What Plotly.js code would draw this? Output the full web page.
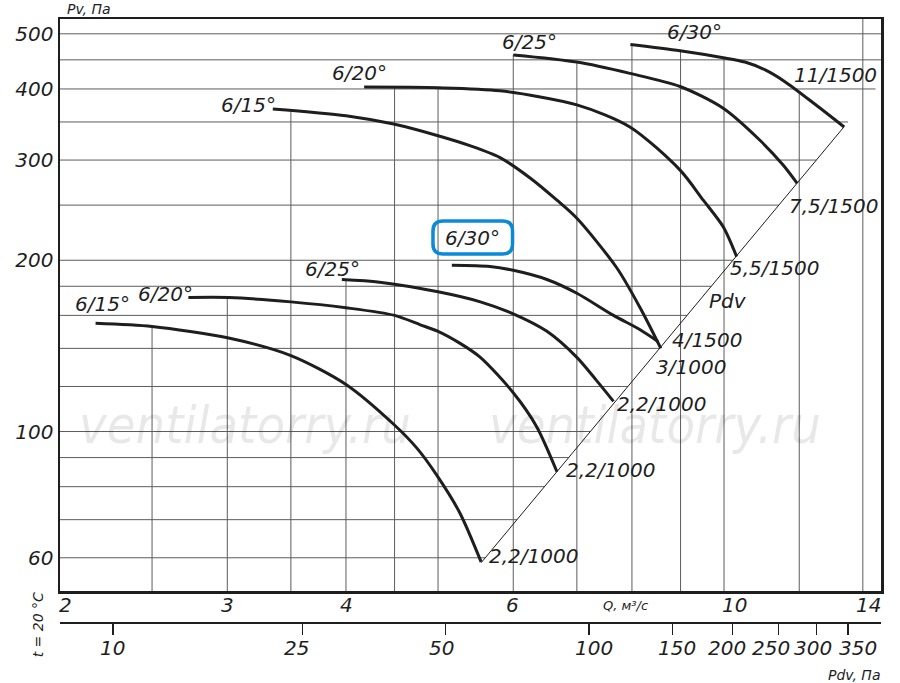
<!DOCTYPE html>
<html>
<head>
<meta charset="utf-8">
<script src="https://cdn.plot.ly/plotly-3.0.1.min.js"></script>
<style>
  html, body { margin: 0; padding: 0; background: #fff; }
  #chart_area { width: 900px; height: 683px; }
</style>
</head>
<body>
<div id="chart_area"></div>
<script>
// fan curves, Q in m3/s, Pv in Pa
var q1500_15 = [3.35, 4.00, 4.49, 5.00, 5.40, 5.81, 6.25, 6.67, 7.00, 7.71, 8.16, 8.58];
var pv1500_15 = [369, 359, 347, 331, 318, 303, 279, 255, 237, 194, 165, 140];
var q1500_20 = [4.18, 5.00, 5.81, 7.00, 7.96, 8.99, 9.51, 9.98, 10.31];
var pv1500_20 = [403, 402, 397, 375, 343, 288, 255, 229, 203];
var q1500_25 = [6.00, 7.00, 7.96, 8.99, 9.98, 10.91, 11.54, 11.94];
var pv1500_25 = [459, 446, 426, 404, 370, 325, 294, 273];
var q1500_30 = [7.97, 8.99, 9.98, 10.52, 11.05, 11.59, 12.47, 13.38];
var pv1500_30 = [479, 467, 454, 446, 432, 412, 376, 343];

var q1000_15 = [2.18, 2.50, 3.01, 3.50, 4.00, 4.49, 4.75, 4.98, 5.27, 5.55];
var pv1000_15 = [155, 153, 146, 136, 121, 103, 93.5, 84, 72, 59];
var q1000_20 = [2.73, 3.01, 3.50, 4.00, 4.50, 4.79, 5.00, 5.27, 5.54, 6.00, 6.35, 6.67];
var pv1000_20 = [172, 172, 169, 165, 160, 154, 150, 143, 135, 117, 102, 85];
var q1000_25 = [3.96, 4.34, 5.00, 5.54, 6.00, 6.51, 7.00, 7.34, 7.65];
var pv1000_25 = [185, 183, 176, 169, 161, 150, 135, 123, 113];
var q1000_30 = [5.17, 5.67, 6.00, 6.51, 7.00, 7.65, 8.16, 8.52];
var pv1000_30 = [196, 195, 192, 185, 175, 160, 151, 144];

// Pdv line (end points of the curves lie on it)
var pdvLineQ = [5.55, 13.38];
var pdvLinePv = [58.8, 343.4];

// axes
var qTicks = [2, 3, 4, 6, 10, 14];
var pvTicks = [60, 100, 200, 300, 400, 500];
var pdvTicks = [10, 25, 50, 100, 150, 200, 250, 300, 350];

// grid
var gridQ = [2.5, 3, 3.5, 4, 4.5, 5, 6, 7, 8, 9, 10, 12, 14];
var gridQTop = [153, 172, 366, 185, 402, 402, 459, 446, 479, 467, 454, 397, null];
var gridPv = [60, 70, 80, 90, 100, 120, 140, 160, 180, 200, 250, 300, 350, 400, 450, 500];

var xRange = [Math.log10(2), Math.log10(14.63)];
var yRange = [Math.log10(52.45), Math.log10(530.9)];
var pdvRange = [0.8887, 2.6134];

function lg(v) { return Math.log10(v); }

var ink = '#1e1e1e';
var gridColor = '#5c5c5c';
var fontFam = 'DejaVu Sans, sans-serif';

// vertical grid lines, cut where the top curve is
var vx = [], vy = [];
var pvBottom = Math.pow(10, yRange[0]), pvTop = Math.pow(10, yRange[1]);
gridQ.forEach(function (q, i) {
    vx.push(q, q, null);
    vy.push(pvBottom, gridQTop[i] === null ? pvTop : gridQTop[i], null);
});

// horizontal grid lines stop at the Pdv line
var slope = (lg(pdvLinePv[1]) - lg(pdvLinePv[0])) / (lg(pdvLineQ[1]) - lg(pdvLineQ[0]));
var hx = [], hy = [];
gridPv.forEach(function (p) {
    var qEnd = Math.pow(10, lg(pdvLineQ[0]) + (lg(p) - lg(pdvLinePv[0])) / slope);
    qEnd = Math.min(qEnd, Math.pow(10, xRange[1]));
    hx.push(2, qEnd, null);
    hy.push(p, p, null);
});

var data = [
    { x: vx, y: vy, mode: 'lines', line: { color: gridColor, width: 1 }, hoverinfo: 'skip' },
    { x: hx, y: hy, mode: 'lines', line: { color: gridColor, width: 1 }, hoverinfo: 'skip' },
    { x: pdvLineQ, y: pdvLinePv, mode: 'lines', line: { color: ink, width: 1 }, hoverinfo: 'skip' },
    // keeps the Pdv axis alive
    { x: pdvTicks, y: [], xaxis: 'x2', yaxis: 'y', mode: 'markers', hoverinfo: 'skip' }
];

var curves = [
    { q: q1500_15, p: pv1500_15, start: '6/15°', end: '4/1500', s: [-24, 3.5], e: [46, 8] },
    { q: q1500_20, p: pv1500_20, start: '6/20°', end: '5,5/1500', s: [-5, 14.5], e: [38, -11] },
    { q: q1500_25, p: pv1500_25, start: '6/25°', end: '7,5/1500', s: [16, 12.5], e: [36, -23] },
    { q: q1500_30, p: pv1500_30, start: '6/30°', end: '11/1500', s: [64.5, 12.5], e: [-9, 52] },
    { q: q1000_15, p: pv1000_15, start: '6/15°', end: '2,2/1000', s: [6.5, 19], e: [52, 6] },
    { q: q1000_20, p: pv1000_20, start: '6/20°', end: '2,2/1000', s: [-23, 4], e: [54, 2] },
    { q: q1000_25, p: pv1000_25, start: '6/25°', end: '2,2/1000', s: [-9, 10.5], e: [48, -3] },
    { q: q1000_30, p: pv1000_30, start: '6/30°', end: '3/1000', s: [21, 27], e: [33, -26] }
];

var labelFont = { family: fontFam, size: 20, color: ink, style: 'italic' };
var annotations = [];

curves.forEach(function (c) {
    data.push({
        x: c.q, y: c.p, mode: 'lines',
        line: { color: ink, width: 3, shape: 'spline', smoothing: 0.8 },
        hoverinfo: 'none'
    });
    var n = c.q.length - 1;
    annotations.push({
        x: lg(c.q[0]), y: lg(c.p[0]), text: c.start, showarrow: false,
        xanchor: 'center', yanchor: 'middle', xshift: c.s[0], yshift: c.s[1], font: labelFont
    });
    annotations.push({
        x: lg(c.q[n]), y: lg(c.p[n]), text: c.end, showarrow: false, borderpad: 0,
        xanchor: 'center', yanchor: 'middle', xshift: c.e[0], yshift: c.e[1], font: labelFont
    });
});

annotations.push({
    x: lg(10.1), y: lg(169.6), text: 'Pdv', showarrow: false, font: labelFont
});

// Q labels, nudged like the original
var qShift = [5, 0, 1, -1, 10, 6];
qTicks.forEach(function (v, i) {
    annotations.push({
        xref: 'x', yref: 'paper', x: lg(v), y: 0.0306, text: String(v),
        showarrow: false, xanchor: 'center', yanchor: 'middle', xshift: qShift[i], font: labelFont
    });
});

// Pdv scale labels, nudged like the original so they don't collide
var pdvShift = [0, -6, -4, 5, 4, -5, -7, -3, 10];
pdvTicks.forEach(function (v, i) {
    annotations.push({
        xref: 'x2', yref: 'paper', x: lg(v), y: -0.0414, text: String(v),
        showarrow: false, xanchor: 'center', yanchor: 'middle', xshift: pdvShift[i], font: labelFont
    });
});

var smallFont = { family: fontFam, size: 14, color: ink, style: 'italic' };
annotations.push(
    { xref: 'paper', yref: 'paper', x: 0.006, y: 1.017, text: 'Pv, Па', showarrow: false,
      xanchor: 'left', yanchor: 'middle', font: smallFont },
    { xref: 'paper', yref: 'paper', x: 0.689, y: 0.0298, text: 'Q, м³/с', showarrow: false,
      xanchor: 'center', yanchor: 'middle', font: { family: fontFam, size: 13, color: ink, style: 'italic' } },
    { xref: 'paper', yref: 'paper', x: 1.001, y: -0.086, text: 'Pdv, Па', showarrow: false,
      xanchor: 'right', yanchor: 'middle', font: smallFont },
    { xref: 'paper', yref: 'paper', x: -0.0274, y: -0.003, text: 't = 20 °C', showarrow: false,
      textangle: -90, xanchor: 'center', yanchor: 'middle', font: smallFont }
);

// watermark
[0.2253, 0.7247].forEach(function (wx) {
    annotations.push({
        xref: 'paper', yref: 'paper', x: wx, y: 0.328, text: 'ventilatorry.ru',
        showarrow: false, xanchor: 'center', yanchor: 'middle',
        font: { family: 'Liberation Sans Narrow, DejaVu Sans Condensed, sans-serif', size: 52,
                color: 'rgba(0,0,0,0.09)', style: 'italic' }
    });
});

// rounded blue frame round the lower 6/30° label
var L = 60, T = 19, W = 821, H = 604;
function px(x) { return ((x - L) / W).toFixed(4); }
function py(y) { return ((T + H - y) / H).toFixed(4); }
function roundRect(x0, y0, x1, y1, r) {
    return 'M' + px(x0 + r) + ',' + py(y0) +
        ' L' + px(x1 - r) + ',' + py(y0) +
        ' Q' + px(x1) + ',' + py(y0) + ' ' + px(x1) + ',' + py(y0 + r) +
        ' L' + px(x1) + ',' + py(y1 - r) +
        ' Q' + px(x1) + ',' + py(y1) + ' ' + px(x1 - r) + ',' + py(y1) +
        ' L' + px(x0 + r) + ',' + py(y1) +
        ' Q' + px(x0) + ',' + py(y1) + ' ' + px(x0) + ',' + py(y1 - r) +
        ' L' + px(x0) + ',' + py(y0 + r) +
        ' Q' + px(x0) + ',' + py(y0) + ' ' + px(x0 + r) + ',' + py(y0) + ' Z';
}

var layout = {
    width: 900,
    height: 683,
    margin: { l: L, r: 900 - L - W, t: T, b: 683 - T - H, pad: 0 },
    paper_bgcolor: '#fff',
    plot_bgcolor: '#fff',
    showlegend: false,
    font: { family: fontFam, size: 20, color: ink, style: 'italic' },
    xaxis: {
        type: 'log', range: xRange, anchor: 'y',
        tickvals: qTicks, showticklabels: false, ticks: '',
        showgrid: false, zeroline: false,
        showline: true, mirror: true, linewidth: 2.5, linecolor: ink
    },
    yaxis: {
        type: 'log', range: yRange, domain: [(683 - 60 - 591) / H, 1],
        tickvals: pvTicks, ticktext: pvTicks.map(String), ticks: '',
        showgrid: false, zeroline: false,
        showline: true, mirror: true, linewidth: 2.5, linecolor: ink,
        tickfont: { family: fontFam, size: 20, color: ink, style: 'italic' }
    },
    xaxis2: {
        type: 'log', range: pdvRange, overlaying: 'x', anchor: 'free', position: 0, side: 'bottom',
        tickvals: pdvTicks, showticklabels: false,
        ticks: 'outside', ticklen: 11, tickwidth: 1.2, tickcolor: ink,
        showgrid: false, zeroline: false,
        showline: true, linewidth: 2, linecolor: ink
    },
    annotations: annotations,
    shapes: [{
        type: 'path', xref: 'paper', yref: 'paper',
        path: roundRect(433, 221, 512.5, 254, 10),
        line: { color: '#0a8ad8', width: 3.5 }
    }]
};

var config = { displayModeBar: false, staticPlot: true };

Plotly.newPlot('chart_area', data, layout, config);
</script>
</body>
</html>
